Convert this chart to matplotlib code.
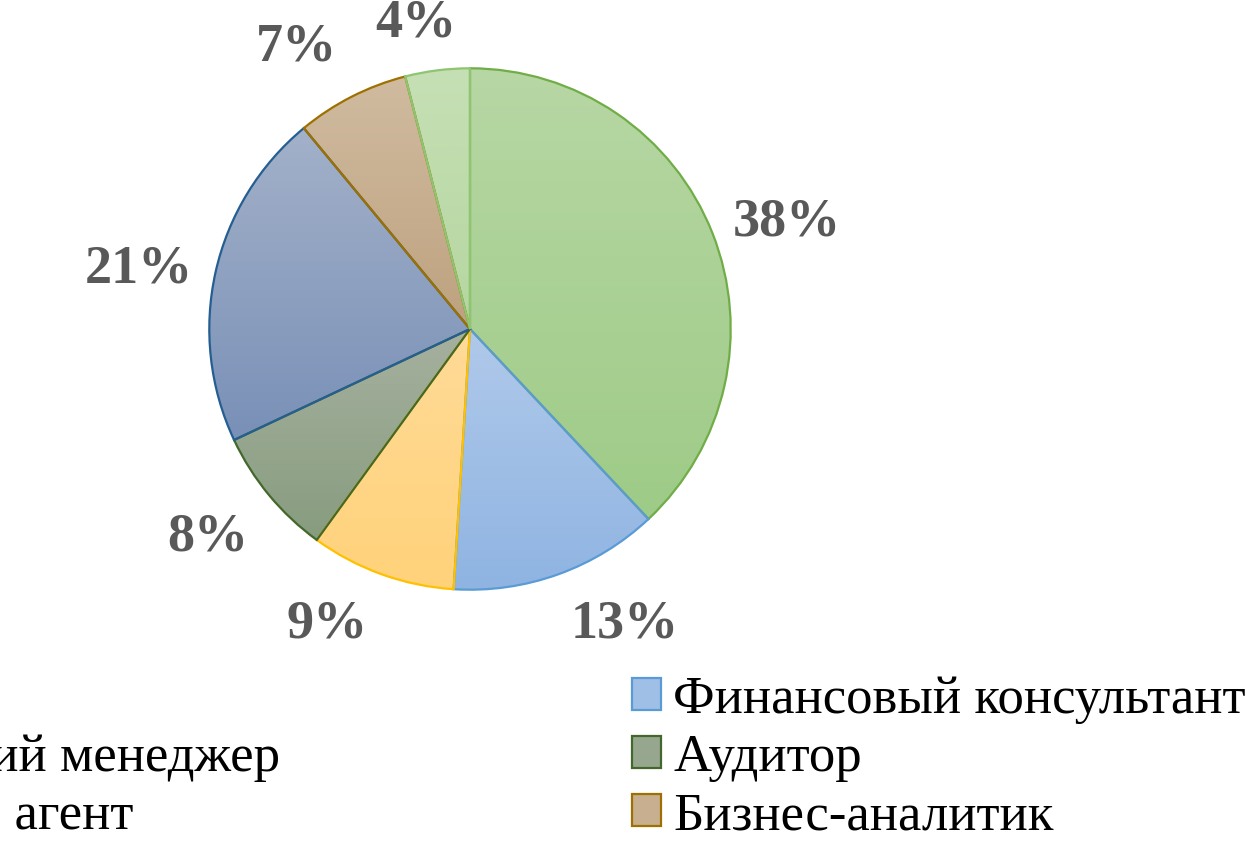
import numpy as np
import matplotlib
matplotlib.use("Agg")
import matplotlib.pyplot as plt
from matplotlib.colors import LinearSegmentedColormap, to_rgb
from matplotlib.patches import Rectangle

# slices, clockwise from 12 o'clock
labels = ["Брокер", "Финансовый консультант", "Банковский менеджер", "Аудитор",
          "Торговый агент", "Бизнес-аналитик", "Экономист"]
shares = [38, 13, 9, 8, 21, 7, 4]

# gradient fill (top -> bottom) and outline per slice
top_colors = ["#b7d7a4", "#b0c9ea", "#ffdb98", "#a6b19f", "#a3b1c9", "#d0bba0", "#c6e0b5"]
bottom_colors = ["#9ecb87", "#8fb4e2", "#ffd27a", "#879c7f", "#7990b7", "#bea27f", "#b5d6a0"]
edge_colors = ["#70ad47", "#5b9bd5", "#ffc000", "#43682b", "#255e91", "#9e7000", "#8fc470"]

# where Excel's "best fit" put the percentage labels (in pie radii from the centre)
label_xy = [(1.215, 0.410), (0.594, -1.134), (-0.548, -1.134), (-1.004, -0.801),
            (-1.272, 0.230), (-0.667, 1.080), (-0.207, 1.172)]

plt.rcParams["font.family"] = ["Liberation Serif", "DejaVu Serif"]

W, H = 1247, 844
fig = plt.figure(figsize=(W / 100, H / 100), dpi=100)
cx, cy, r = 470, 329, 262
ax = fig.add_axes([(cx - r) / W, (H - cy - r) / H, 2 * r / W, 2 * r / H])

wedges, texts = ax.pie(shares, labels=[f"{s}%" for s in shares], startangle=90,
                       counterclock=False, radius=1, labeldistance=1.28,
                       wedgeprops=dict(linewidth=1.6),
                       textprops=dict(fontsize=39, fontweight="bold", color="#595959"))
for t, xy in zip(texts, label_xy):
    t.set_position(xy)
    t.set_ha("center")
    t.set_va("center")

grad = np.linspace(0, 1, 256).reshape(-1, 1)
for w, c0, c1, ec in zip(wedges, top_colors, bottom_colors, edge_colors):
    ext = w.get_path().get_extents()
    cmap = LinearSegmentedColormap.from_list("g", [c0, c1])
    im = ax.imshow(grad, cmap=cmap, extent=(ext.x0, ext.x1, ext.y0, ext.y1),
                   origin="upper", aspect="auto", zorder=w.get_zorder() - 0.5)
    im.set_clip_path(w)
    w.set_facecolor("none")
    w.set_edgecolor(ec)

ax.set_xlim(-1.005, 1.005)
ax.set_ylim(-1.005, 1.005)
ax.axis("off")

mid_colors = [tuple((np.array(to_rgb(a)) + np.array(to_rgb(b))) / 2)
              for a, b in zip(top_colors, bottom_colors)]
handles = [Rectangle((0, 0), 1, 1, facecolor=fc, edgecolor=ec, linewidth=1.6)
           for fc, ec in zip(mid_colors, edge_colors)]
order = [0, 2, 4, 6, 1, 3, 5]  # Excel fills rows first, matplotlib columns
fs = 38
fig.legend([handles[i] for i in order], [labels[i] for i in order],
           loc="upper left", bbox_to_anchor=(-256 / W, 1 - 676 / H), ncol=2,
           frameon=False, fontsize=fs, handlelength=0.55, handleheight=0.55,
           handletextpad=0.23, columnspacing=352 / (fs * 100 / 72), labelspacing=0.19,
           borderaxespad=0, borderpad=0)

fig.savefig("out.png", dpi=100)
